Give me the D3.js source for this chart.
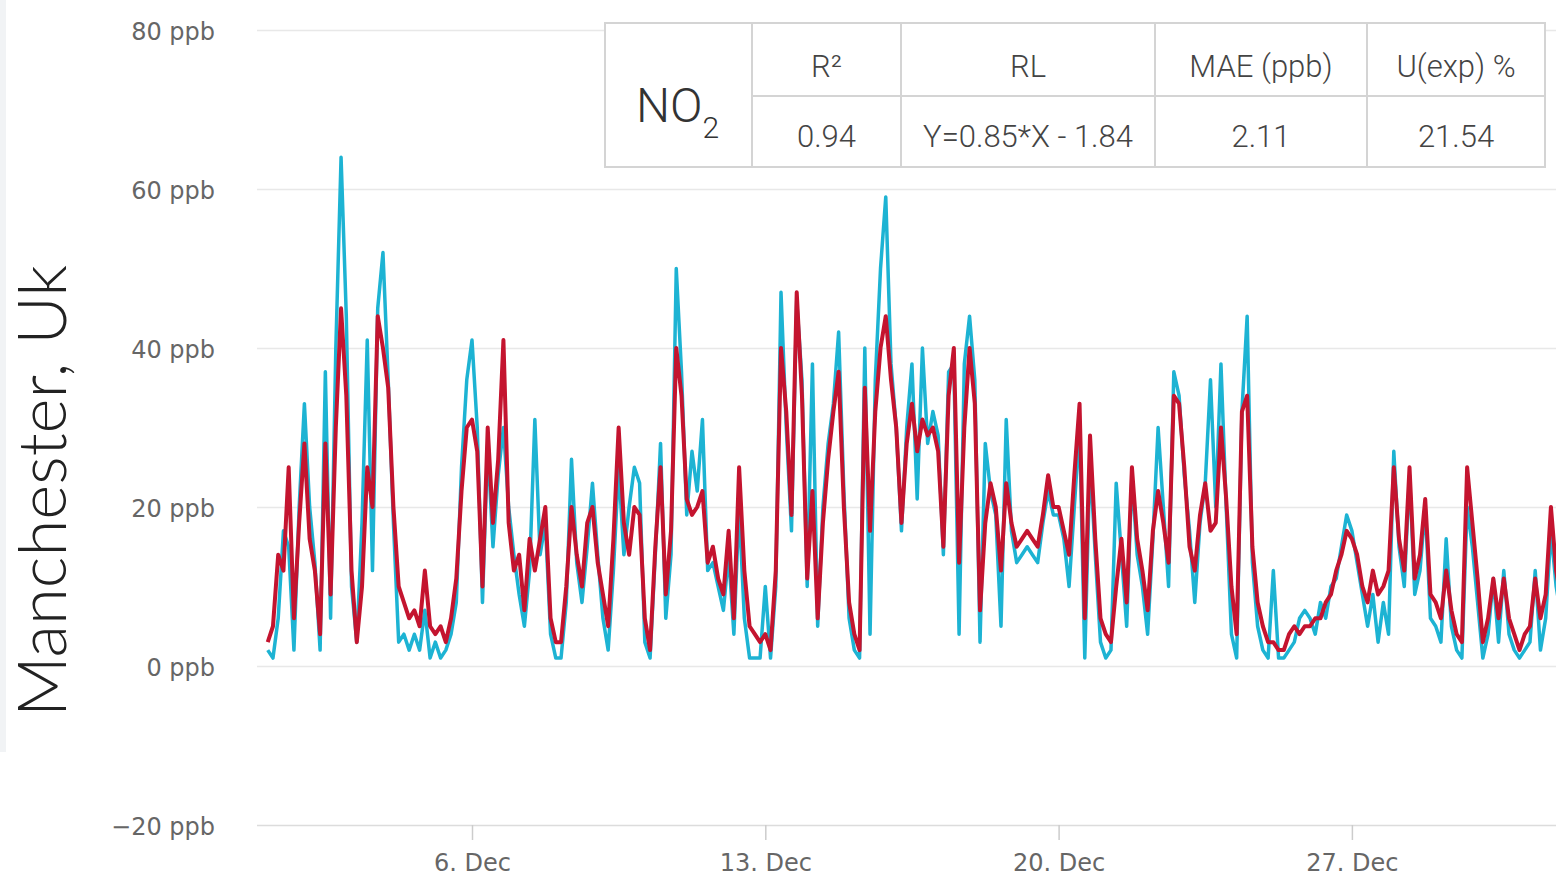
<!DOCTYPE html>
<html>
<head>
<meta charset="utf-8">
<script src="https://cdn.jsdelivr.net/npm/d3@7"></script>
<style>
  body { margin: 0; background: #fff; overflow: hidden; }
  svg { display: block; }
</style>
</head>
<body>
<div id="chart"></div>
<script>
// NO2 readings, one value every 3 hours starting 1 Dec 03:00 (UTC)
const startTime = Date.UTC(2020, 11, 1, 3);
const stepHours = 3;

// reference analyser (cyan)
const referenceNO2 = [
    2, 1, 6, 17, 15, 2, 20,
    33, 20, 13, 2, 37, 6, 40, 64,
    44, 10, 3, 18, 41, 12, 45, 52,
    36, 18, 3, 4, 2, 4, 2, 7,
    1, 3, 1, 2, 4, 8, 25, 36,
    41, 30, 8, 28, 15, 24, 30, 20,
    14, 9, 5, 12, 31, 14, 18, 4,
    1, 1, 8, 26, 13, 8, 15, 23,
    14, 6, 2, 12, 25, 14, 20, 25,
    23, 3, 1, 14, 28, 6, 14, 50,
    37, 19, 27, 22, 31, 12, 13, 10,
    7, 14, 4, 20, 6, 1, 1, 1,
    10, 1, 10, 47, 30, 17, 46, 36,
    10, 38, 5, 20, 28, 33, 42, 22,
    6, 2, 1, 40, 4, 36, 50, 59,
    38, 30, 17, 30, 38, 21, 40, 28,
    32, 29, 14, 37, 38, 4, 38, 44,
    36, 3, 28, 22, 19, 5, 31, 17,
    13, 14, 15, 14, 13, 18, 22, 19,
    19, 16, 10, 20, 30, 1, 26, 14,
    3, 1, 2, 23, 14, 5, 24, 14,
    10, 4, 16, 30, 20, 10, 37, 34,
    24, 17, 8, 18, 23, 36, 20, 38,
    20, 4, 1, 32, 44, 13, 5, 2,
    1, 12, 1, 1, 2, 3, 6, 7,
    6, 4, 8, 6, 10, 11, 15, 19,
    17, 13, 9, 5, 9, 3, 8, 4,
    27, 15, 10, 24, 9, 12, 20, 6,
    5, 3, 16, 5, 2, 1, 20, 15,
    8, 1, 4, 11, 3, 12, 4, 2,
    1, 2, 3, 12, 2, 6, 17, 10,
    6
];

// low cost sensor (red)
const sensorNO2 = [
    3, 5, 14, 12, 25, 6, 18,
    28, 16, 12, 4, 28, 9, 30, 45,
    34, 12, 3, 10, 25, 20, 44, 40,
    35, 20, 10, 8, 6, 7, 5, 12,
    5, 4, 5, 3, 6, 11, 22, 30,
    31, 27, 10, 30, 18, 26, 41, 18,
    12, 14, 7, 16, 12, 16, 20, 6,
    3, 3, 10, 20, 14, 10, 18, 20,
    13, 9, 5, 16, 30, 18, 14, 20,
    19, 6, 2, 15, 25, 9, 17, 40,
    34, 21, 19, 20, 22, 13, 15, 11,
    9, 17, 6, 25, 12, 5, 4, 3,
    4, 2, 12, 40, 32, 19, 47, 34,
    11, 22, 6, 18, 26, 32, 37, 20,
    8, 4, 2, 35, 17, 32, 40, 44,
    36, 30, 18, 28, 33, 27, 31, 29,
    30, 27, 15, 34, 40, 13, 30, 40,
    33, 7, 18, 23, 20, 12, 23, 18,
    15, 16, 17, 16, 15, 19, 24, 20,
    20, 17, 14, 24, 33, 6, 29, 16,
    6, 4, 3, 10, 16, 8, 25, 16,
    12, 7, 17, 22, 18, 13, 34, 33,
    25, 15, 12, 19, 23, 17, 18, 30,
    21, 10, 4, 32, 34, 15, 8, 5,
    3, 3, 2, 2, 4, 5, 4, 5,
    5, 6, 6, 8, 9, 12, 14, 17,
    16, 14, 10, 8, 12, 9, 10, 12,
    25, 16, 12, 25, 11, 14, 21, 9,
    8, 6, 12, 7, 4, 3, 25, 18,
    11, 3, 6, 11, 6, 11, 6, 4,
    2, 4, 5, 11, 6, 9, 20, 12,
    8
];

const yTicks = [-20, 0, 20, 40, 60, 80];
const xTickDays = [6, 13, 20, 27];

const pollutant = "NO";
const tableHeaders = ["R²", "RL", "MAE (ppb)", "U(exp) %"];
const tableValues = ["0.94", "Y=0.85*X - 1.84", "2.11", "21.54"];
const stationName = "Manchester, Uk";

const W = 1556, H = 877;
const plotLeft = 257;

const svg = d3.select("#chart")
    .append("svg")
    .attr("width", W)
    .attr("height", H);

// faint panel edge on the far left
svg.append("rect")
    .attr("x", 0).attr("y", 0)
    .attr("width", 6).attr("height", 752)
    .attr("fill", "#f1f3f5");

const x = d3.scaleUtc()
    .domain([new Date(Date.UTC(2020, 11, 1)), new Date(Date.UTC(2020, 11, 31))])
    .range([262.5, 1519.5]);

const y = d3.scaleLinear()
    .domain([-20, 80])
    .range([825, 30]);

// y grid + labels
const yAxis = svg.append("g")
    .attr("transform", `translate(${plotLeft},0)`)
    .call(d3.axisLeft(y)
        .tickValues(yTicks)
        .tickSize(-(W - plotLeft))
        .tickPadding(42)
        .tickFormat(d => (d < 0 ? "\u2212" + Math.abs(d) : d) + " ppb"));

yAxis.select(".domain").remove();
yAxis.selectAll(".tick line")
    .attr("stroke", d => d === -20 ? "#dcdcdc" : "#e8e8e8")
    .attr("stroke-width", 1.5);
yAxis.selectAll(".tick text")
    .attr("fill", "#666")
    .attr("dy", "0.4em")
    .style("font-family", "'DejaVu Sans', sans-serif")
    .style("font-size", "24px");

// x ticks
const xAxis = svg.append("g")
    .attr("transform", "translate(0,825)")
    .call(d3.axisBottom(x)
        .tickValues(xTickDays.map(d => new Date(Date.UTC(2020, 11, d))))
        .tickSize(15)
        .tickPadding(14)
        .tickFormat(d3.utcFormat("%-d. %b")));

xAxis.select(".domain").remove();
xAxis.selectAll(".tick line")
    .attr("stroke", "#ccc")
    .attr("stroke-width", 1.5);
xAxis.selectAll(".tick text")
    .attr("fill", "#666")
    .style("font-family", "'DejaVu Sans', sans-serif")
    .style("font-size", "24px");

// series
const timeAt = i => new Date(startTime + i * stepHours * 3600 * 1000);

svg.append("clipPath")
    .attr("id", "plot-clip")
    .append("rect")
    .attr("x", plotLeft).attr("y", 0)
    .attr("width", W - plotLeft).attr("height", 830);

const line = d3.line()
    .x((d, i) => x(timeAt(i)))
    .y(d => y(d));

const lines = svg.append("g").attr("clip-path", "url(#plot-clip)");

lines.append("path")
    .datum(referenceNO2)
    .attr("d", line)
    .attr("fill", "none")
    .attr("stroke", "#1db3d3")
    .attr("stroke-width", 3.5)
    .attr("stroke-linejoin", "round");

lines.append("path")
    .datum(sensorNO2)
    .attr("d", line)
    .attr("fill", "none")
    .attr("stroke", "#c4142f")
    .attr("stroke-width", 4)
    .attr("stroke-linejoin", "round");

// station title on the left
svg.append("text")
    .attr("transform", "translate(66,491) rotate(-90)")
    .attr("text-anchor", "middle")
    .attr("fill", "#222")
    .style("font-family", "Lato, sans-serif")
    .style("font-weight", 300)
    .style("font-size", "67px")
    .text(stationName);

// stats table
const colEdges = [605, 752, 901, 1155, 1367, 1545];
const rowEdges = [23, 96, 167];
const table = svg.append("g")
    .style("font-family", "Roboto, sans-serif")
    .style("font-weight", 300);

table.append("rect")
    .attr("x", colEdges[0]).attr("y", rowEdges[0])
    .attr("width", colEdges[5] - colEdges[0])
    .attr("height", rowEdges[2] - rowEdges[0])
    .attr("fill", "#fff")
    .attr("stroke", "#d4d4d4")
    .attr("stroke-width", 2);

table.append("line")
    .attr("x1", colEdges[1]).attr("x2", colEdges[5])
    .attr("y1", rowEdges[1]).attr("y2", rowEdges[1])
    .attr("stroke", "#d4d4d4").attr("stroke-width", 2);

colEdges.slice(1, 5).forEach(cx => {
    table.append("line")
        .attr("x1", cx).attr("x2", cx)
        .attr("y1", rowEdges[0]).attr("y2", rowEdges[2])
        .attr("stroke", "#d4d4d4").attr("stroke-width", 2);
});

const no2 = table.append("text")
    .attr("x", 636).attr("y", 122)
    .attr("fill", "#333")
    .style("font-size", "48px");
no2.append("tspan").text(pollutant);
no2.append("tspan")
    .attr("dy", 16)
    .style("font-size", "30px")
    .text("2");

tableHeaders.forEach((h, i) => {
    const cx = (colEdges[i + 1] + colEdges[i + 2]) / 2;
    table.append("text")
        .attr("x", cx).attr("y", 77)
        .attr("text-anchor", "middle")
        .attr("fill", "#444")
        .style("font-size", "31px")
        .text(h);
    table.append("text")
        .attr("x", cx).attr("y", 147)
        .attr("text-anchor", "middle")
        .attr("fill", "#444")
        .style("font-size", "31px")
        .text(tableValues[i]);
});
</script>
</body>
</html>
